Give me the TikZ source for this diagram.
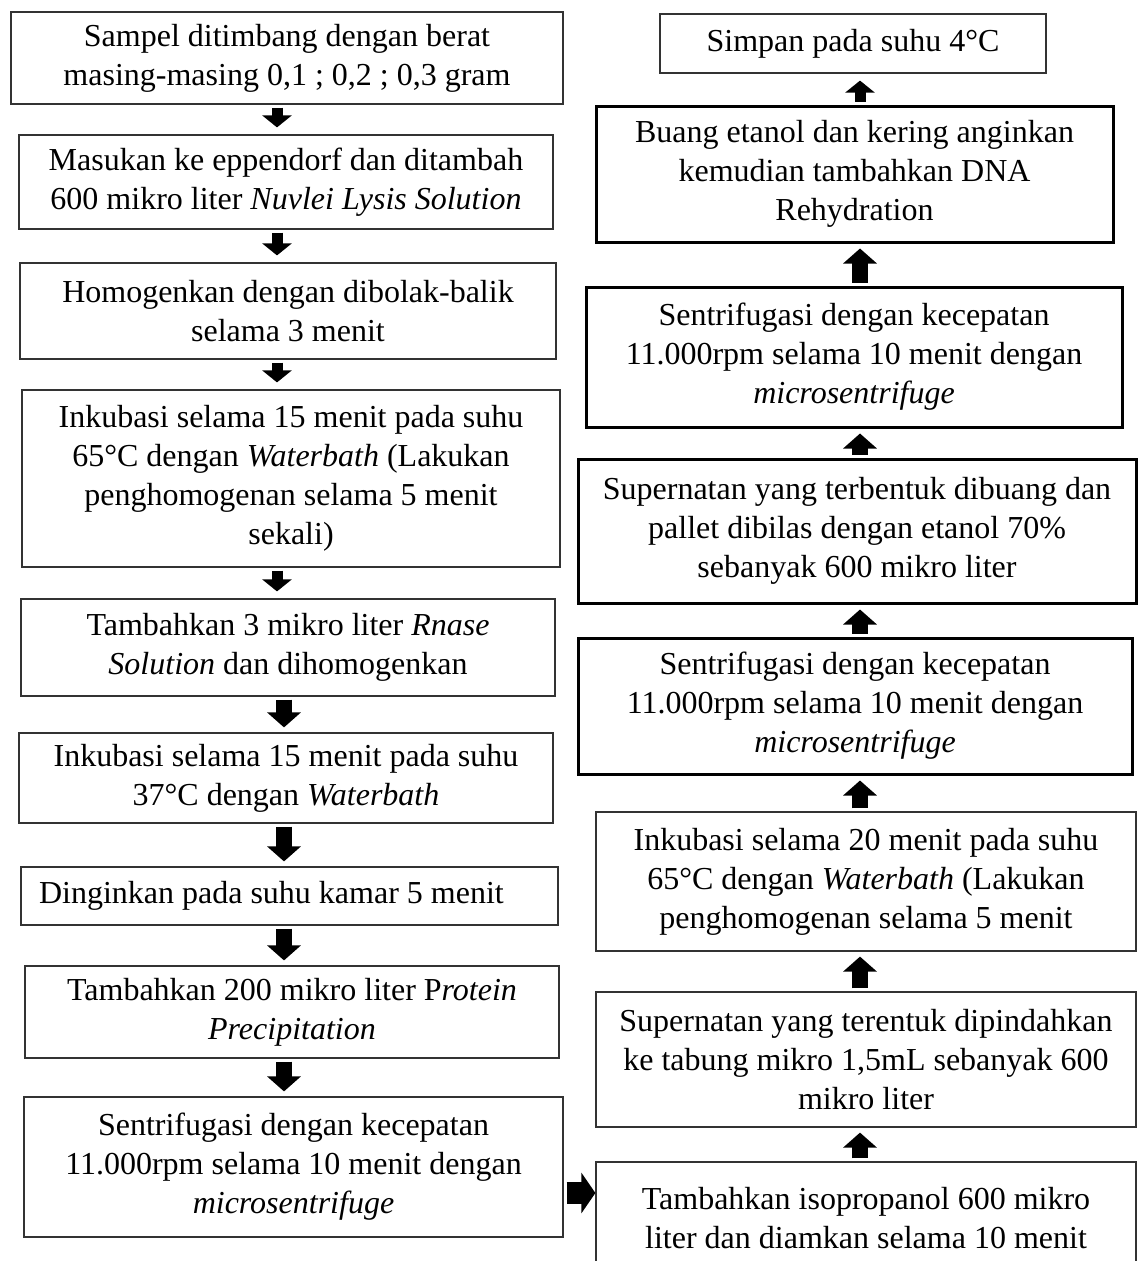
\documentclass[tikz,border=0pt]{standalone}
\usepackage{fontspec}
\setmainfont{Liberation Serif}
\usetikzlibrary{arrows.meta}

\begin{document}
\begin{tikzpicture}[x=1pt, y=-1pt,
    every node/.style={font=\fontsize{32}{39}\selectfont, align=center, inner sep=0pt},
    kotak/.style={draw=black!80, line width=1.2pt, rectangle},
    kotaktebal/.style={draw=black, line width=3pt, rectangle},
    panahkecil/.style={line width=11pt, -{Triangle[width=29pt,length=12pt]}, shorten <=3pt, shorten >=7pt},
    panahsedang/.style={line width=16pt, -{Triangle[width=33pt,length=15pt]}, shorten <=3pt, shorten >=5pt},
    panahkanan/.style={line width=22pt, -{Triangle[width=40pt,length=14pt]}, shorten <=3pt}]
				\useasboundingbox (0,0) rectangle (1139,1261);
				\clip (0,0) rectangle (1139,1261);
				
				% Titik bantu untuk posisi panah
				\coordinate (ka) at (277,0);
				\coordinate (kb) at (284,0);
				\coordinate (kc) at (860,0);
				\coordinate (kd) at (0,1193);
				
				% Kolom kiri
				\node[kotak, minimum width=552pt, minimum height=92pt] (b1) at (287,58) {Sampel ditimbang dengan berat\\masing-masing 0,1 ; 0,2 ; 0,3 gram};
				\node[kotak, minimum width=534pt, minimum height=94pt] (b2) at (286,182) {Masukan ke eppendorf dan ditambah\\600 mikro liter \textit{Nuvlei Lysis Solution}};
				\node[kotak, minimum width=536pt, minimum height=96pt] (b3) at (288,311) {Homogenkan dengan dibolak-balik\\selama 3 menit};
				\node[kotak, minimum width=538pt, minimum height=177pt] (b4) at (291,478.5) {Inkubasi selama 15 menit pada suhu\\65°C dengan \textit{Waterbath} (Lakukan\\penghomogenan selama 5 menit\\sekali)};
				\node[kotak, minimum width=534pt, minimum height=97pt] (b5) at (288,647.5) {Tambahkan 3 mikro liter \textit{Rnase}\\\textit{Solution} dan dihomogenkan};
				\node[kotak, minimum width=534pt, minimum height=90pt] (b6) at (286,778) {Inkubasi selama 15 menit pada suhu\\37°C dengan \textit{Waterbath}};
				\node[kotak, text width=501pt, inner xsep=18pt, minimum height=58pt, align=flush left] (b7) at (289.5,896) {Dinginkan pada suhu kamar 5 menit};
				\node[kotak, minimum width=534pt, minimum height=92pt] (b8) at (292,1012) {Tambahkan 200 mikro liter P\textit{rotein}\\\textit{Precipitation}};
				\node[kotak, minimum width=539pt, minimum height=140pt] (b9) at (293.5,1167) {Sentrifugasi dengan kecepatan\\11.000rpm selama 10 menit dengan\\\textit{microsentrifuge}};
				
				% Kolom kanan
				\node[kotak, minimum width=386pt, minimum height=59pt] (r1) at (853,43.5) {Simpan pada suhu 4°C};
				\node[kotaktebal, minimum width=517pt, minimum height=136pt] (r2) at (854.5,174) {Buang etanol dan kering anginkan\\kemudian tambahkan DNA\\Rehydration};
				\node[kotaktebal, minimum width=536pt, minimum height=140pt] (r3) at (854,357) {Sentrifugasi dengan kecepatan\\11.000rpm selama 10 menit dengan\\\textit{microsentrifuge}};
				\node[kotaktebal, minimum width=558pt, minimum height=144pt] (r4) at (857,531) {Supernatan yang terbentuk dibuang dan\\pallet dibilas dengan etanol 70\%\\sebanyak 600 mikro liter};
				\node[kotaktebal, minimum width=554pt, minimum height=136pt] (r5) at (855,706) {Sentrifugasi dengan kecepatan\\11.000rpm selama 10 menit dengan\\\textit{microsentrifuge}};
				\node[kotak, minimum width=540pt, minimum height=139pt] (r6) at (866,881.5) {Inkubasi selama 20 menit pada suhu\\65°C dengan \textit{Waterbath} (Lakukan\\penghomogenan selama 5 menit};
				\node[kotak, minimum width=540pt, minimum height=135pt] (r7) at (866,1059.5) {Supernatan yang terentuk dipindahkan\\ke tabung mikro 1,5mL sebanyak 600\\mikro liter};
				\node[kotak, minimum width=540pt, minimum height=113pt] (r8) at (866,1218.5) {Tambahkan isopropanol 600 mikro\\liter dan diamkan selama 10 menit};
				
				% Panah kolom kiri
				\draw[panahkecil] (b1.south -| ka) -- (b2.north -| ka);
				\draw[panahkecil] (b2.south -| ka) -- (b3.north -| ka);
				\draw[panahkecil] (b3.south -| ka) -- (b4.north -| ka);
				\draw[panahkecil] (b4.south -| ka) -- (b5.north -| ka);
				\draw[panahsedang] (b5.south -| kb) -- (b6.north -| kb);
				\draw[panahsedang] (b6.south -| kb) -- (b7.north -| kb);
				\draw[panahsedang] (b7.south -| kb) -- (b8.north -| kb);
				\draw[panahsedang] (b8.south -| kb) -- (b9.north -| kb);
				
				% Panah ke kolom kanan
				\draw[panahkanan] (b9.east |- kd) -- (r8.west |- kd);
				
				% Panah kolom kanan
				\draw[panahsedang] (r8.north -| kc) -- (r7.south -| kc);
				\draw[panahsedang] (r7.north -| kc) -- (r6.south -| kc);
				\draw[panahsedang] (r6.north -| kc) -- (r5.south -| kc);
				\draw[panahsedang] (r5.north -| kc) -- (r4.south -| kc);
				\draw[panahsedang] (r4.north -| kc) -- (r3.south -| kc);
				\draw[panahsedang] (r3.north -| kc) -- (r2.south -| kc);
				\draw[panahkecil] (r2.north -| kc) -- (r1.south -| kc);
			\end{tikzpicture}
\end{document}
